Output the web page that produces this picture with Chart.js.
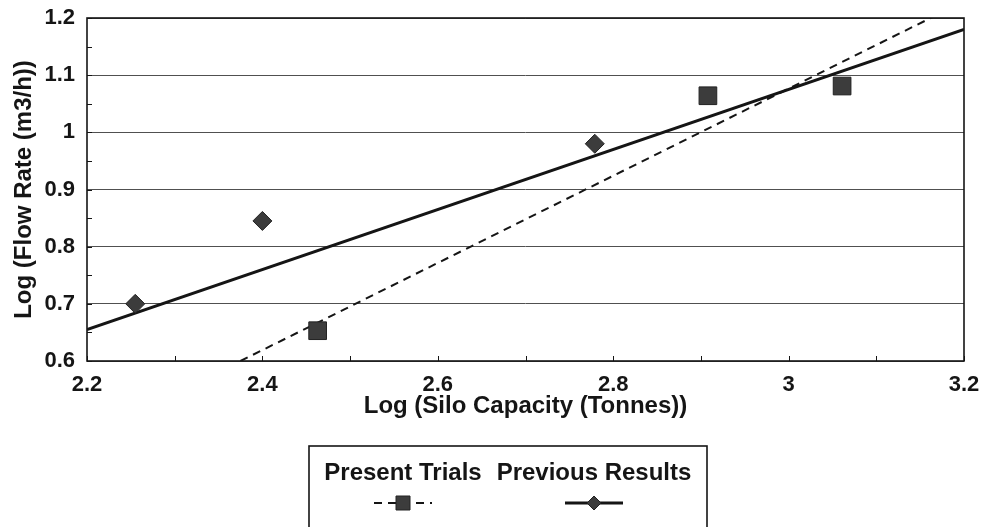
<!DOCTYPE html>
<html>
<head>
<meta charset="utf-8">
<script src="https://cdn.jsdelivr.net/npm/chart.js@4.4.1/dist/chart.umd.min.js"></script>
<style>
    html, body { margin: 0; padding: 0; background: #fff; }
    #wrap { position: relative; width: 984px; height: 527px; }
</style>
</head>
<body>
<div id="wrap"><canvas id="siloChart"></canvas></div>
<script>
// --- Data ---
const presentX = [2.463, 2.908, 3.061];
const presentY = [0.653, 1.064, 1.081];
const previousX = [2.255, 2.400, 2.779];
const previousY = [0.700, 0.845, 0.980];

// trend lines (end points)
const presentFitX = [2.375, 3.2];
const presentFitY = [0.600, 1.229];
const previousFitX = [2.2, 3.2];
const previousFitY = [0.655, 1.180];

// axes
const xRange = [2.2, 3.2];
const yRange = [0.6, 1.2];
const xLabelStep = 0.2;   // labelled x ticks
const xMinorStep = 0.1;
const yLabelStep = 0.1;   // labelled y ticks / gridlines
const yMinorStep = 0.05;

const seriesNames = ['Present Trials', 'Previous Results'];
const xTitle = 'Log (Silo Capacity (Tonnes))';
const yTitle = 'Log (Flow Rate (m3/h))';

const FONT = '"Liberation Sans", Arial, Helvetica, sans-serif';
const INK = '#151515';

const toPoints = (xs, ys) => xs.map((x, i) => ({ x, y: ys[i] }));
const onStep = (v, step) => Math.abs(v / step - Math.round(v / step)) < 1e-6;
const fmt = v => String(Number(v.toFixed(2)));

// --- Frame and inward tick marks ---
const frameTicks = {
    id: 'frameTicks',
    beforeDatasetsDraw(chart) {
        const { ctx, chartArea: a, scales } = chart;
        ctx.save();
        ctx.strokeStyle = INK;
        ctx.lineWidth = 1;
        ctx.beginPath();
        scales.x.ticks.forEach(t => {
            const px = Math.round(scales.x.getPixelForValue(t.value)) + 0.5;
            ctx.moveTo(px, a.bottom);
            ctx.lineTo(px, a.bottom - 5);
        });
        scales.y.ticks.forEach(t => {
            const py = Math.round(scales.y.getPixelForValue(t.value)) + 0.5;
            ctx.moveTo(a.left, py);
            ctx.lineTo(a.left + 5, py);
        });
        ctx.stroke();
        ctx.lineWidth = 1.6;
        ctx.strokeRect(a.left, a.top, a.right - a.left, a.bottom - a.top);
        ctx.restore();
    }
};

// --- Boxed legend under the chart (text above each sample) ---
const boxLegend = {
    id: 'boxLegend',
    afterDraw(chart) {
        const ctx = chart.ctx;
        const ds = chart.data.datasets;
        const box = { left: 309, top: 446, right: 707 };
        const entries = [
            { cx: 403, point: ds[0], line: ds[1] },
            { cx: 594, point: ds[2], line: ds[3] }
        ];
        ctx.save();
        ctx.strokeStyle = INK;
        ctx.lineWidth = 1.6;
        ctx.strokeRect(box.left, box.top, box.right - box.left, 120);

        ctx.font = 'bold 24px ' + FONT;
        ctx.fillStyle = INK;
        ctx.textAlign = 'center';
        ctx.textBaseline = 'middle';
        entries.forEach(e => {
            ctx.fillText(e.point.label, e.cx, 473);

            const sy = 503;
            ctx.beginPath();
            ctx.setLineDash(e.line.borderDash || []);
            ctx.lineWidth = e.line.borderWidth;
            ctx.strokeStyle = e.line.borderColor;
            ctx.moveTo(e.cx - 29, sy);
            ctx.lineTo(e.cx + 29, sy);
            ctx.stroke();
            ctx.setLineDash([]);

            ctx.fillStyle = e.point.backgroundColor;
            ctx.strokeStyle = e.point.borderColor;
            ctx.lineWidth = 1;
            ctx.beginPath();
            if (e.point.pointStyle === 'rect') {
                ctx.rect(e.cx - 7, sy - 7, 14, 14);
            } else {
                ctx.moveTo(e.cx, sy - 7);
                ctx.lineTo(e.cx + 7, sy);
                ctx.lineTo(e.cx, sy + 7);
                ctx.lineTo(e.cx - 7, sy);
                ctx.closePath();
            }
            ctx.fill();
            ctx.stroke();
            ctx.fillStyle = INK;
        });
        ctx.restore();
    }
};

new Chart(document.getElementById('siloChart'), {
    type: 'scatter',
    data: {
        datasets: [
            {
                label: seriesNames[0],
                data: toPoints(presentX, presentY),
                pointStyle: 'rect',
                pointRadius: 12.5,
                pointHoverRadius: 12.5,
                backgroundColor: '#3c3c3c',
                borderColor: '#222',
                borderWidth: 1,
                showLine: false
            },
            {
                label: seriesNames[0] + ' fit',
                data: toPoints(presentFitX, presentFitY),
                showLine: true,
                pointRadius: 0,
                borderColor: INK,
                borderWidth: 2,
                borderDash: [8, 6],
                clip: 0
            },
            {
                label: seriesNames[1],
                data: toPoints(previousX, previousY),
                pointStyle: 'rectRot',
                pointRadius: 9.5,
                pointHoverRadius: 9.5,
                backgroundColor: '#3c3c3c',
                borderColor: '#222',
                borderWidth: 1,
                showLine: false
            },
            {
                label: seriesNames[1] + ' fit',
                data: toPoints(previousFitX, previousFitY),
                showLine: true,
                pointRadius: 0,
                borderColor: INK,
                borderWidth: 2.8,
                clip: 0
            }
        ]
    },
    options: {
        responsive: true,
        maintainAspectRatio: false,
        animation: false,
        layout: { padding: { top: 18, right: 20, bottom: 106, left: 0 } },
        plugins: {
            legend: { display: false },
            tooltip: { enabled: false }
        },
        scales: {
            x: {
                type: 'linear',
                min: xRange[0],
                max: xRange[1],
                afterFit: s => {
                    s.height = 60;
                    s.paddingLeft = 0;
                    s.paddingRight = 0;
                },
                border: { display: false },
                grid: { drawOnChartArea: false, drawTicks: false },
                ticks: {
                    stepSize: xMinorStep,
                    autoSkip: false,
                    maxRotation: 0,
                    padding: 11,
                    color: INK,
                    font: { family: FONT, size: 22, weight: 'bold' },
                    callback: v => onStep(v, xLabelStep) ? fmt(v) : ''
                },
                title: {
                    display: true,
                    text: xTitle,
                    color: INK,
                    padding: { top: 0, bottom: 0 },
                    font: { family: FONT, size: 24, weight: 'bold' }
                }
            },
            y: {
                type: 'linear',
                min: yRange[0],
                max: yRange[1],
                afterFit: s => {
                    s.width = 87;
                    s.paddingTop = 0;
                    s.paddingBottom = 0;
                },
                border: { display: false },
                grid: {
                    drawTicks: false,
                    lineWidth: 1,
                    color: c => onStep(c.tick.value, yLabelStep) ? '#505050' : 'rgba(0,0,0,0)'
                },
                ticks: {
                    stepSize: yMinorStep,
                    autoSkip: false,
                    padding: 12,
                    color: INK,
                    font: { family: FONT, size: 22, weight: 'bold' },
                    callback: v => onStep(v, yLabelStep) ? fmt(v) : ''
                },
                title: {
                    display: true,
                    text: yTitle,
                    color: INK,
                    padding: { top: 10, bottom: 0 },
                    font: { family: FONT, size: 24, weight: 'bold' }
                }
            }
        }
    },
    plugins: [frameTicks, boxLegend]
});
</script>
</body>
</html>
